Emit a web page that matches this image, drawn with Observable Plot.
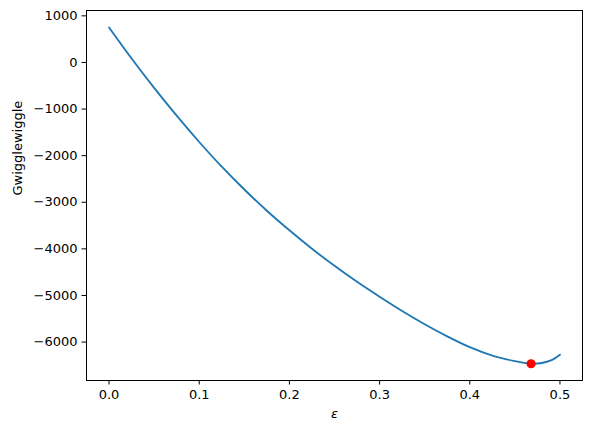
<!DOCTYPE html>
<html>
<head>
<meta charset="utf-8">
<script src="https://cdn.jsdelivr.net/npm/d3@7"></script>
<script src="https://cdn.jsdelivr.net/npm/@observablehq/plot@0.6"></script>
<style>
  html, body { margin: 0; padding: 0; background: #fff; }
  svg { display: block; }
</style>
</head>
<body>
<div id="chart"></div>
<script>
const epsilon = [0, 0.025, 0.05, 0.075, 0.1, 0.125, 0.15, 0.175, 0.2, 0.225, 0.25, 0.275, 0.3, 0.325, 0.35, 0.375, 0.4, 0.425, 0.45, 0.46, 0.47, 0.48, 0.49, 0.5];
const gwigglewiggle = [750, 85, -545, -1142, -1707, -2237, -2727, -3182, -3602, -3997, -4365, -4708, -5028, -5333, -5618, -5878, -6110, -6290, -6410, -6448, -6466, -6450, -6395, -6270];
const minEpsilon = [0.468];
const minValue = [-6466];
const xTicks = [0, 0.1, 0.2, 0.3, 0.4, 0.5];
const yTicks = [-6000, -5000, -4000, -3000, -2000, -1000, 0, 1000];

const curve = epsilon.map((e, i) => ({e, g: gwigglewiggle[i]}));
const minPt = minEpsilon.map((e, i) => ({e, g: minValue[i]}));
const fmtY = d => (d < 0 ? "\u2212" : "") + Math.abs(d);

const chart = Plot.plot({
  width: 592,
  height: 433,
  marginLeft: 86,
  marginRight: 10,
  marginTop: 10,
  marginBottom: 53,
  style: {fontFamily: "DejaVu Sans", fontSize: "13px", color: "black", background: "white"},
  x: {domain: [-0.025, 0.525]},
  y: {domain: [-6825, 1115]},
  marks: [
    Plot.axisX({ticks: xTicks, tickFormat: d3.format(".1f"), tickSize: 4.5, tickPadding: 5, label: null, fontSize: 13}),
    Plot.axisY({ticks: yTicks, tickFormat: fmtY, tickSize: 4.5, tickPadding: 4.5, label: null, fontSize: 13}),
    Plot.line(curve, {x: "e", y: "g", stroke: "#1f77b4", strokeWidth: 1.85, curve: "catmull-rom"}),
    Plot.dot(minPt, {x: "e", y: "g", r: 4.6, fill: "red", stroke: "none"}),
    Plot.frame({stroke: "black", strokeWidth: 1}),
    Plot.text(["ε"], {frameAnchor: "bottom", dy: 37, fontStyle: "italic", fontSize: 13, fill: "black"}),
    Plot.text(["Gwigglewiggle"], {frameAnchor: "left", dx: -69, rotate: -90, fontSize: 13, fill: "black"})
  ]
});
document.getElementById("chart").appendChild(chart);
</script>
</body>
</html>
